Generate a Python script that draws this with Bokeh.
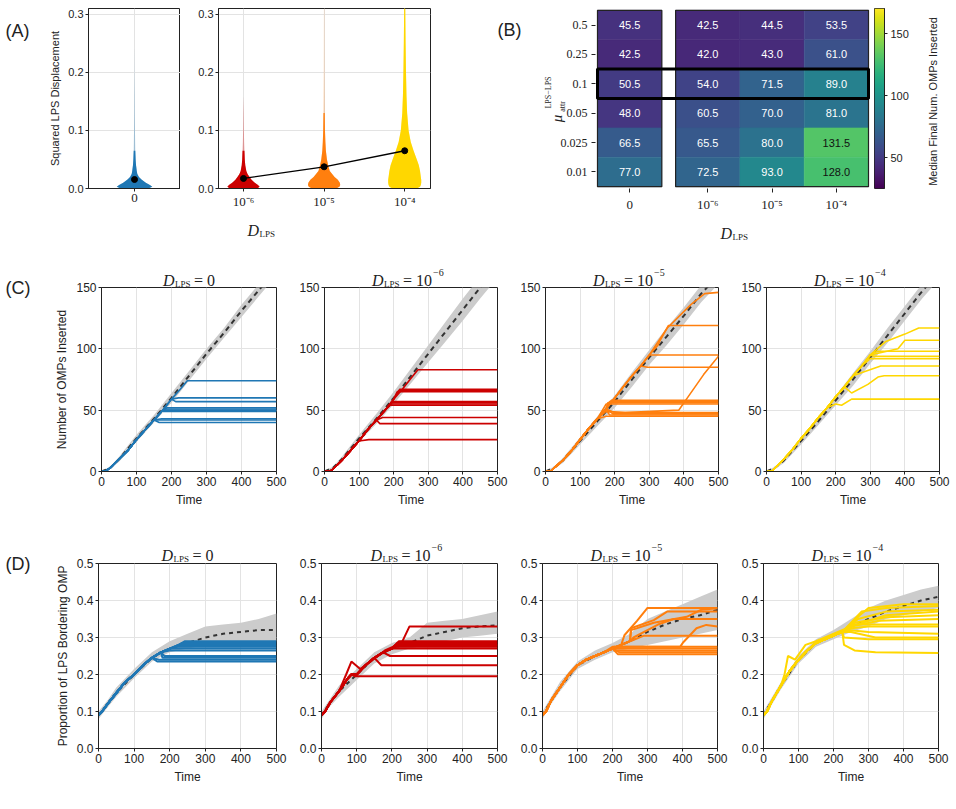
import numpy as np
from bokeh.plotting import figure
from bokeh.layouts import row, column
from bokeh.models import (Label, FixedTicker, LinearColorMapper, NumeralTickFormatter,
                          ColumnDataSource, GridBox)
from bokeh.palettes import Viridis256
from bokeh.core.properties import value
from bokeh.embed import file_html
from bokeh.resources import INLINE

SANS = "Liberation Sans"
SERIF = "Liberation Serif"
INK = "#222222"
GRID = "#e3e3e3"
PAGE_W, PAGE_H = 956, 809

# ---------------- Panel A data ----------------
A_TICK_LABELS = ["0", "10⁻⁶", "10⁻⁵", "10⁻⁴"]
A_COLORS = ["#1f77b4", "#cc0000", "#ff7f0e", "#ffd700"]
A_Y_TICKS = [0.0, 0.1, 0.2, 0.3]
VIOLIN_Y = [0.0, 0.003, 0.006, 0.01, 0.015, 0.02, 0.025, 0.03, 0.04, 0.05, 0.065, 0.08, 0.1, 0.13, 0.16, 0.2, 0.25, 0.31]
HALF_D0 = [0.17, 0.22, 0.19, 0.14, 0.09, 0.055, 0.035, 0.028, 0.019, 0.014, 0.010, 0.008, 0.006, 0.004, 0.003, 0.001, 0.0, 0.0]
HALF_D6 = [0.17, 0.20, 0.18, 0.14, 0.10, 0.075, 0.050, 0.035, 0.022, 0.016, 0.012, 0.008, 0.005, 0.003, 0.0, 0.0, 0.0, 0.0]
HALF_D5 = [0.15, 0.19, 0.20, 0.195, 0.17, 0.13, 0.10, 0.07, 0.05, 0.035, 0.022, 0.016, 0.011, 0.008, 0.006, 0.004, 0.003, 0.002]
HALF_D4 = [0.15, 0.19, 0.20, 0.205, 0.205, 0.20, 0.195, 0.19, 0.175, 0.15, 0.11, 0.075, 0.048, 0.03, 0.022, 0.016, 0.011, 0.007]
SOLID_TOP = [0.065, 0.065, 0.13, 0.31]
A_MEAN = [0.0155, 0.0173, 0.0374, 0.065]

# ---------------- Panel B data ----------------
B_MU_LABELS = ["0.5", "0.25", "0.1", "0.05", "0.025", "0.01"]   # top to bottom
B_D_LABELS = ["0", "10⁻⁶", "10⁻⁵", "10⁻⁴"]
B_VAL_D0 = [45.5, 42.5, 50.5, 48.0, 66.5, 77.0]
B_VAL_D6 = [42.5, 42.0, 54.0, 60.5, 65.5, 72.5]
B_VAL_D5 = [44.5, 43.0, 71.5, 70.0, 80.0, 93.0]
B_VAL_D4 = [53.5, 61.0, 89.0, 81.0, 131.5, 128.0]
B_HIGHLIGHT = "0.1"
CB_LOW, CB_HIGH = 25.0, 170.5
CB_TICKS = [50, 100, 150]
CB_LABEL = "Median Final Num. OMPs Inserted"

# ---------------- Panel C data (Number of OMPs inserted) ----------------
TIME_TICKS = [0, 100, 200, 300, 400, 500]
MEAN_T = [0, 25, 50, 100, 150, 200, 250, 300, 350, 400, 450, 500]
C_Y_TICKS = [0, 50, 100, 150]

C0_MEAN = [0, 3, 10, 27, 43, 60, 78, 96, 113, 131, 148, 165]
C0_BAND = [0.5, 1, 2, 3, 3, 4, 4, 4, 4, 5, 5, 5]
C6_MEAN = [0, 3, 10, 27, 43, 60, 78, 96, 114, 132, 150, 167]
C6_BAND = [0.5, 1, 2, 3, 4, 5, 6, 7, 8, 9, 9, 9]
C5_MEAN = [0, 3, 9, 25, 41, 57, 75, 93, 110, 127, 145, 160]
C5_BAND = [0.5, 1, 2, 3, 4, 5, 6, 6, 7, 7, 7, 7]
C4_MEAN = [0, 3, 9, 25, 41, 58, 75, 93, 111, 129, 147, 163]
C4_BAND = [0.5, 1, 2, 3, 3, 4, 5, 5, 6, 6, 6, 6]

C0_RISE_T = [0, 10, 25, 50, 75, 100, 125, 150, 175, 200, 225, 250]
C0_RISE_Y = [0, 0, 3, 10, 17, 26, 34, 42, 50, 59, 67, 76]
C0_LINES = [[(245, 74)], [(220, 60)], [(212, 57)], [(187, 52)], [(183, 51)], [(179, 50)],
            [(176, 49)], [(172, 43)], [(168, 42)], [(165, 40)]]

C6_RISE_T = [0, 15, 25, 50, 75, 100, 125, 150, 175, 200, 225, 250, 275]
C6_RISE_Y = [0, 0, 2, 9, 17, 25, 34, 42, 50, 59, 67, 76, 85]
C6_LINES = [[(270, 83)], [(218, 67)], [(214, 66)], [(210, 65)], [(197, 57)], [(195, 56)],
            [(193, 55)], [(190, 54)], [(168, 44)], [(160, 39)], [(105, 25), (128, 26)]]

C5_RISE_T = [0, 15, 25, 50, 75, 100, 125, 150, 175, 200, 225, 250, 275, 300, 325, 350]
C5_RISE_Y = [0, 0, 3, 9, 17, 26, 35, 43, 51, 60, 69, 78, 86, 95, 103, 112]
C5_LINES = [[(300, 95), (352, 117), (420, 136), (460, 145), (500, 146)],
            [(330, 106), (355, 119)],
            [(320, 95)],
            [(295, 85)],
            [(175, 49), (230, 48), (385, 50), (410, 60), (457, 79), (500, 94)],
            [(190, 58)], [(185, 57)], [(180, 56)], [(175, 55)],
            [(200, 48)], [(195, 47)], [(185, 46)], [(175, 45)]]

C4_RISE_T = [0, 15, 25, 50, 75, 100, 125, 150, 175, 200, 225, 250, 275, 300]
C4_RISE_Y = [0, 0, 3, 10, 18, 27, 35, 44, 52, 61, 69, 78, 86, 95]
C4_LINES = [[(300, 95), (345, 106), (400, 112), (440, 117), (500, 117)],
            [(300, 95), (380, 100), (400, 107), (500, 107)],
            [(320, 98)], [(310, 94)], [(300, 92)],
            [(270, 80), (330, 86)],
            [(246, 64), (293, 71), (322, 77), (340, 78)],
            [(200, 55), (217, 54), (246, 59)]]

# ---------------- Panel D data (Proportion of LPS bordering OMP) ----------------
D_Y_TICKS = [0.0, 0.1, 0.2, 0.3, 0.4, 0.5]

D0_MEAN = [0.09, 0.12, 0.15, 0.20, 0.245, 0.27, 0.285, 0.30, 0.31, 0.315, 0.32, 0.32]
D0_UP = [0.10, 0.13, 0.165, 0.215, 0.26, 0.29, 0.31, 0.33, 0.335, 0.34, 0.35, 0.365]
D0_LO = [0.08, 0.11, 0.14, 0.19, 0.235, 0.26, 0.27, 0.28, 0.285, 0.29, 0.29, 0.29]
D6_MEAN = [0.09, 0.125, 0.155, 0.20, 0.245, 0.27, 0.285, 0.305, 0.315, 0.325, 0.33, 0.333]
D6_UP = [0.10, 0.135, 0.17, 0.215, 0.26, 0.285, 0.30, 0.34, 0.345, 0.35, 0.36, 0.37]
D6_LO = [0.08, 0.115, 0.14, 0.185, 0.23, 0.255, 0.27, 0.28, 0.29, 0.30, 0.305, 0.31]
D5_MEAN = [0.09, 0.13, 0.165, 0.225, 0.25, 0.27, 0.29, 0.315, 0.335, 0.35, 0.36, 0.375]
D5_UP = [0.10, 0.14, 0.18, 0.235, 0.265, 0.285, 0.31, 0.35, 0.37, 0.39, 0.41, 0.43]
D5_LO = [0.08, 0.12, 0.155, 0.215, 0.24, 0.26, 0.27, 0.28, 0.29, 0.30, 0.31, 0.32]
D4_MEAN = [0.09, 0.13, 0.17, 0.24, 0.285, 0.305, 0.33, 0.35, 0.37, 0.385, 0.40, 0.41]
D4_UP = [0.10, 0.14, 0.18, 0.25, 0.295, 0.32, 0.35, 0.38, 0.40, 0.415, 0.43, 0.44]
D4_LO = [0.08, 0.12, 0.16, 0.23, 0.275, 0.295, 0.315, 0.33, 0.35, 0.36, 0.37, 0.38]

D0_RISE_T = [0, 10, 25, 50, 75, 100, 125, 150, 175, 200, 225, 250]
D0_RISE_Y = [0.09, 0.10, 0.12, 0.15, 0.18, 0.20, 0.225, 0.245, 0.26, 0.27, 0.28, 0.29]
D0_LINES = [[(243, 0.29)], [(235, 0.285)], [(230, 0.28)], [(220, 0.275)], [(205, 0.27)],
            [(200, 0.265)], [(185, 0.25)], [(180, 0.245)], [(170, 0.24)], [(165, 0.235)]]

D6_RISE_T = [0, 10, 25, 50, 75, 85, 100, 125, 150, 175, 200, 225, 250]
D6_RISE_Y = [0.09, 0.10, 0.125, 0.155, 0.19, 0.20, 0.20, 0.225, 0.245, 0.26, 0.27, 0.28, 0.285]
D6_LINES = [[(250, 0.33)], [(220, 0.29)], [(215, 0.285)], [(210, 0.28)], [(205, 0.275)],
            [(200, 0.27)], [(195, 0.25)], [(170, 0.225)], [(96, 0.195)],
            [(70, 0.20), (85, 0.235), (110, 0.215), (140, 0.235), (180, 0.265), (215, 0.28)]]

D5_RISE_T = [0, 10, 25, 50, 75, 100, 125, 150, 175, 200, 225, 250, 275, 300]
D5_RISE_Y = [0.09, 0.10, 0.13, 0.165, 0.20, 0.225, 0.24, 0.25, 0.26, 0.27, 0.28, 0.29, 0.30, 0.31]
D5_LINES = [[(234, 0.306), (270, 0.345), (300, 0.38)],
            [(253, 0.325), (318, 0.347), (356, 0.37)],
            [(253, 0.32), (318, 0.34), (412, 0.356), (454, 0.375), (500, 0.379)],
            [(260, 0.30), (330, 0.335), (375, 0.35)],
            [(250, 0.29), (290, 0.305)],
            [(200, 0.275), (393, 0.275), (403, 0.288), (440, 0.325), (468, 0.334), (500, 0.33)],
            [(200, 0.27)], [(210, 0.265)], [(220, 0.26)], [(215, 0.255)], [(205, 0.275)]]

D4_RISE_T = [0, 10, 25, 50, 75, 100, 125, 150, 175, 200, 225]
D4_RISE_Y = [0.09, 0.10, 0.13, 0.17, 0.21, 0.24, 0.265, 0.285, 0.295, 0.305, 0.315]
D4_LINES = [[(275, 0.36), (300, 0.38), (400, 0.39), (500, 0.39)],
            [(280, 0.37), (350, 0.38), (500, 0.385)],
            [(270, 0.35), (350, 0.37), (500, 0.375)],
            [(260, 0.34), (350, 0.355), (500, 0.36)],
            [(250, 0.33), (330, 0.345), (500, 0.35)],
            [(260, 0.335), (400, 0.335), (500, 0.335)],
            [(250, 0.325), (300, 0.33), (500, 0.33)],
            [(240, 0.32), (300, 0.315), (500, 0.31)],
            [(250, 0.315), (320, 0.30), (500, 0.30)],
            [(230, 0.30), (300, 0.295), (500, 0.295)],
            [(230, 0.28), (260, 0.265), (320, 0.26), (500, 0.258)],
            [(60, 0.20), (70, 0.25), (90, 0.24), (120, 0.28), (150, 0.29), (250, 0.33), (350, 0.36), (500, 0.37)]]

TITLES = [("0", None), ("10", "−6"), ("10", "−5"), ("10", "−4")]


# ---------------- helpers ----------------
def base_fig(width, height, left, right, top, bottom, x_range, y_range, **kw):
    p = figure(width=width, height=height, x_range=x_range, y_range=y_range,
               output_backend="svg", toolbar_location=None,
               min_border_left=left, min_border_right=right,
               min_border_top=top, min_border_bottom=bottom, **kw)
    p.outline_line_color = INK
    p.outline_line_width = 1
    p.outline_line_alpha = 1
    for ax in p.axis:
        ax.axis_line_color = INK
        ax.major_tick_line_color = INK
        ax.major_tick_out = 3
        ax.major_tick_in = 0
        ax.minor_tick_line_color = None
        ax.major_label_text_font = SANS
        ax.major_label_text_font_size = "12px"
        ax.major_label_text_color = INK
        ax.major_label_standoff = 2
        ax.axis_label_text_font = SANS
        ax.axis_label_text_font_size = "12px"
        ax.axis_label_text_font_style = "normal"
        ax.axis_label_text_color = INK
        ax.axis_label_standoff = 4
    p.grid.grid_line_color = GRID
    return p


def build_line(rise_t, rise_y, pts):
    t0 = pts[0][0]
    ts = [t for t in rise_t if t < t0]
    ys = [y for t, y in zip(rise_t, rise_y) if t < t0]
    ts += [q[0] for q in pts]
    ys += [q[1] for q in pts]
    if ts[-1] < 500:
        ts.append(500)
        ys.append(ys[-1])
    return ts, ys


def violin(p, xc, half, color, solid_top):
    y = np.array(VIOLIN_Y)
    h = np.array(half)
    p.patch(np.concatenate([xc + h, (xc - h)[::-1]]), np.concatenate([y, y[::-1]]),
            fill_color=color, fill_alpha=0.35, line_color=None)
    m = y <= solid_top
    p.patch(np.concatenate([xc + h[m], (xc - h[m])[::-1]]), np.concatenate([y[m], y[m][::-1]]),
            fill_color=color, fill_alpha=1.0, line_color=None)


# ---------------- Row 1: panel A ----------------
fA0 = base_fig(180, 245, 88, 0, 8, 57, (-0.57, 0.57), (0, 0.31))
fA0.xaxis.ticker = FixedTicker(ticks=[0])
fA0.xaxis.major_label_overrides = {0: A_TICK_LABELS[0]}
fA0.xaxis.major_label_text_font = SERIF
fA0.xaxis.major_label_text_font_size = "13px"
fA0.yaxis.ticker = FixedTicker(ticks=A_Y_TICKS)
fA0.yaxis.formatter = NumeralTickFormatter(format="0.0")
fA0.yaxis.axis_label = "Squared LPS Displacement"
fA0.yaxis.axis_label_text_font_size = "11px"
fA0.yaxis.major_label_text_font_size = "11px"
violin(fA0, 0.0, HALF_D0, A_COLORS[0], SOLID_TOP[0])
fA0.scatter([0.0], [A_MEAN[0]], size=6, color="black")

fA1 = base_fig(300, 245, 38, 50, 8, 57, (0.69, 3.32), (0, 0.31))
fA1.xaxis.ticker = FixedTicker(ticks=[1, 2, 3])
fA1.xaxis.major_label_overrides = {1: A_TICK_LABELS[1], 2: A_TICK_LABELS[2], 3: A_TICK_LABELS[3]}
fA1.xaxis.major_label_text_font = SERIF
fA1.xaxis.major_label_text_font_size = "13px"
fA1.yaxis.ticker = FixedTicker(ticks=A_Y_TICKS)
fA1.yaxis.formatter = NumeralTickFormatter(format="0.0")
fA1.yaxis.major_label_text_font_size = "11px"
for i, half in enumerate([HALF_D6, HALF_D5, HALF_D4]):
    violin(fA1, i + 1.0, half, A_COLORS[i + 1], SOLID_TOP[i + 1])
fA1.line([1, 2, 3], A_MEAN[1:], line_color="black", line_width=1.3)
fA1.scatter([1, 2, 3], A_MEAN[1:], size=6, color="black")

# ---------------- Row 1: panel B heatmap ----------------
B_COL_X = [0.5, 1.715, 2.715, 3.715]
B_XMAX = 4.215
mapper = LinearColorMapper(palette=Viridis256, low=CB_LOW, high=CB_HIGH)
fB = base_fig(392, 245, 115, 2, 4, 46, (-0.031, B_XMAX + 0.031), (-0.063, 6.063))
fB.outline_line_color = None
fB.grid.visible = False
fB.xaxis.axis_line_color = None
fB.yaxis.axis_line_color = None
fB.xaxis.major_tick_out = 4
fB.yaxis.major_tick_out = 4
fB.xaxis.major_label_standoff = 4
fB.yaxis.major_label_standoff = 4
row_y = [5.5 - i for i in range(len(B_MU_LABELS))]
fB.yaxis.ticker = FixedTicker(ticks=row_y)
fB.yaxis.major_label_overrides = {y: lab for y, lab in zip(row_y, B_MU_LABELS)}
fB.yaxis.major_label_text_font = SERIF
fB.xaxis.ticker = FixedTicker(ticks=B_COL_X)
fB.xaxis.major_label_overrides = {x: lab for x, lab in zip(B_COL_X, B_D_LABELS)}
fB.xaxis.major_label_text_font = SERIF
fB.xaxis.major_label_text_font_size = "13px"
cx, cy, cv = [], [], []
for x, vals in zip(B_COL_X, [B_VAL_D0, B_VAL_D6, B_VAL_D5, B_VAL_D4]):
    for y, v in zip(row_y, vals):
        cx.append(x)
        cy.append(y)
        cv.append(v)
src = ColumnDataSource(dict(x=cx, y=cy, v=cv, t=[f"{v:.1f}" for v in cv],
                            c=["#111111" if v > 110 else "white" for v in cv]))
fB.rect("x", "y", width=1.0, height=1.0, source=src,
        fill_color={"field": "v", "transform": mapper},
        line_color={"field": "v", "transform": mapper}, line_width=0.5)
fB.text("x", "y", text="t", source=src, text_color="c", text_align="center",
        text_baseline="middle", text_font=value(SANS), text_font_size="11px")
fB.rect([B_COL_X[0], B_COL_X[2]], [3.0, 3.0], width=[1.0, 3.0], height=[6.0, 6.0],
        fill_color=None, line_color=INK, line_width=1.2)
hi = B_MU_LABELS.index(B_HIGHLIGHT)
fB.rect([B_XMAX / 2], [row_y[hi]], width=[B_XMAX], height=[1.0],
        fill_color=None, line_color="black", line_width=3)

fCB = base_fig(84, 245, 2, 72, 6, 48, (0, 1), (CB_LOW, CB_HIGH), y_axis_location="right")
fCB.grid.visible = False
fCB.xaxis.visible = False
fCB.image(image=[np.linspace(CB_LOW, CB_HIGH, 256).reshape(-1, 1)], x=0, y=CB_LOW, dw=1,
          dh=CB_HIGH - CB_LOW, color_mapper=mapper)
fCB.yaxis.ticker = FixedTicker(ticks=CB_TICKS)
fCB.yaxis.major_label_text_font_size = "11px"
fCB.yaxis.major_label_standoff = 3


# ---------------- Rows 2 and 3: time series ----------------
def ts_fig(width, left, right, height, top, bottom, y_max, y_ticks, decimal):
    p = base_fig(width, height, left, right, top, bottom, (0, 500), (0, y_max))
    p.xaxis.ticker = FixedTicker(ticks=TIME_TICKS)
    p.yaxis.ticker = FixedTicker(ticks=y_ticks)
    if decimal:
        p.yaxis.formatter = NumeralTickFormatter(format="0.0")
    p.xaxis.axis_label = "Time"
    return p


C_SPECS = [
    (C0_MEAN, C0_BAND, C0_RISE_T, C0_RISE_Y, C0_LINES),
    (C6_MEAN, C6_BAND, C6_RISE_T, C6_RISE_Y, C6_LINES),
    (C5_MEAN, C5_BAND, C5_RISE_T, C5_RISE_Y, C5_LINES),
    (C4_MEAN, C4_BAND, C4_RISE_T, C4_RISE_Y, C4_LINES),
]
D_SPECS = [
    (D0_MEAN, D0_LO, D0_UP, D0_RISE_T, D0_RISE_Y, D0_LINES),
    (D6_MEAN, D6_LO, D6_UP, D6_RISE_T, D6_RISE_Y, D6_LINES),
    (D5_MEAN, D5_LO, D5_UP, D5_RISE_T, D5_RISE_Y, D5_LINES),
    (D4_MEAN, D4_LO, D4_UP, D4_RISE_T, D4_RISE_Y, D4_LINES),
]

C_GEOM = [(296, 101, 20), (221, 26, 20), (221, 26, 20), (218, 26, 17)]
D_GEOM = [(296, 98, 20), (221, 23, 20), (221, 22, 21), (218, 22, 18)]

c_figs = []
for k, (mean, band, rt, ry, lines) in enumerate(C_SPECS):
    w, l, r = C_GEOM[k]
    p = ts_fig(w, l, r, 280, 42, 54, 150, C_Y_TICKS, False)
    lo = [m - b for m, b in zip(mean, band)]
    up = [m + b for m, b in zip(mean, band)]
    p.varea(x=MEAN_T, y1=lo, y2=up, fill_color="#cccccc")
    p.line(MEAN_T, mean, line_color="#333333", line_width=2, line_dash="5 4")
    for pts in lines:
        tx, ty = build_line(rt, ry, pts)
        p.line(tx, ty, line_color=A_COLORS[k], line_width=1.6)
    if k == 0:
        p.yaxis.axis_label = "Number of OMPs Inserted"
    c_figs.append(p)

d_figs = []
for k, (mean, lo, up, rt, ry, lines) in enumerate(D_SPECS):
    w, l, r = D_GEOM[k]
    p = ts_fig(w, l, r, 284, 38, 61, 0.5, D_Y_TICKS, True)
    p.varea(x=MEAN_T, y1=lo, y2=up, fill_color="#cccccc")
    p.line(MEAN_T, mean, line_color="#333333", line_width=2, line_dash="4 4")
    for pts in lines:
        tx, ty = build_line(rt, ry, pts)
        p.line(tx, ty, line_color=A_COLORS[k], line_width=2)
    if k == 0:
        p.yaxis.axis_label = "Proportion of LPS Bordering OMP"
    d_figs.append(p)

main = column(row(fA0, fA1, fB, fCB), row(*c_figs), row(*d_figs))

# ---------------- transparent overlay for panel letters and math-style labels ----------------
ov = figure(width=PAGE_W, height=PAGE_H, x_range=(0, PAGE_W), y_range=(0, PAGE_H),
            output_backend="svg", toolbar_location=None, x_axis_type=None, y_axis_type=None,
            min_border=0, min_border_left=0, min_border_right=0, min_border_top=0, min_border_bottom=0)
ov.grid.visible = False
ov.outline_line_color = None
ov.background_fill_color = None
ov.border_fill_color = None


def otext(px, py, text, size, style="normal", font=SANS, angle=0.0, align="left", baseline="alphabetic"):
    ov.add_layout(Label(x=px, y=PAGE_H - py, text=text, angle=angle, text_font=font,
                        text_font_size=f"{size}px", text_font_style=style, text_color=INK,
                        text_align=align, text_baseline=baseline))


def dlps_at(px, py, rhs=None, sup=None):
    otext(px, py, "D", 16, "italic", SERIF)
    otext(px + 12, py + 3, "LPS", 9, "normal", SERIF)
    if rhs is not None:
        otext(px + 31, py, "=", 16, "normal", SERIF)
        otext(px + 44, py, rhs, 16, "normal", SERIF)
        if sup is not None:
            otext(px + 61, py - 8, sup, 10, "normal", SERIF)


for letter, (px, py) in zip(["(A)", "(B)", "(C)", "(D)"], [(5, 30), (497, 29), (5, 287), (5, 563)]):
    otext(px, py, letter, 18)

dlps_at(247, 230)
dlps_at(720, 233)

otext(548, 92, "LPS−LPS", 8, "normal", SERIF, np.pi / 2, "center", "middle")
otext(556, 118, "μ", 15, "italic", SERIF, np.pi / 2, "center", "middle")
otext(562, 106, "attr", 8, "normal", SERIF, np.pi / 2, "center", "middle")
otext(932, 101, CB_LABEL, 11, "normal", SANS, np.pi / 2, "center", "middle")

C_CENTERS = [188.5, 409.5, 630.5, 851.5]
D_CENTERS = [187, 408, 628, 849]
for (rhs, sup), cxp in zip(TITLES, C_CENTERS):
    w = 52 if sup is None else 76
    dlps_at(cxp - w / 2, 280, rhs, sup)
for (rhs, sup), cxp in zip(TITLES, D_CENTERS):
    w = 52 if sup is None else 76
    dlps_at(cxp - w / 2, 555, rhs, sup)

layout = GridBox(children=[(main, 0, 0), (ov, 0, 0)])

with open("out.html", "w") as f:
    f.write(file_html(layout, INLINE))
